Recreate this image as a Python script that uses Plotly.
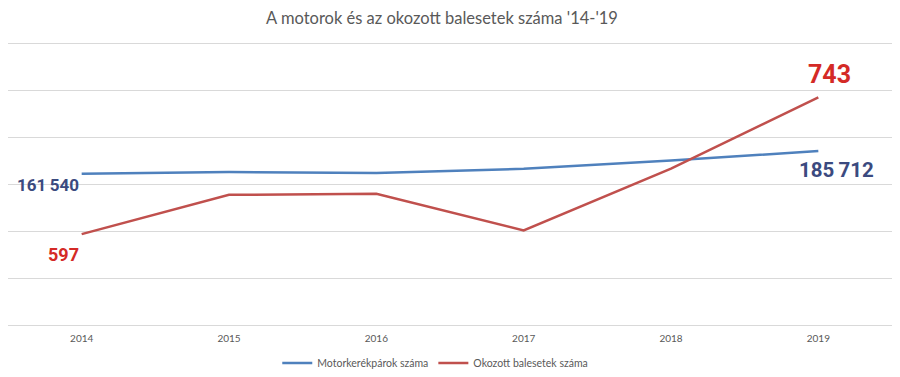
import plotly.graph_objects as go

years = ["2014", "2015", "2016", "2017", "2018", "2019"]
motorcycles = [161540, 163300, 162300, 166800, 175600, 185712]
accidents = [597, 639, 640, 601, 667, 743]

blue = "#4f81bd"
red = "#c0504d"
grid = "#d9d9d9"
label_font = "Roboto, Liberation Sans, sans-serif"
text_font = "Lato, Open Sans, sans-serif"

fig = go.Figure()
fig.add_trace(go.Scatter(x=years, y=motorcycles, mode="lines", name="Motorkerékpárok száma",
                         line=dict(color=blue, width=2.5), yaxis="y"))
fig.add_trace(go.Scatter(x=years, y=accidents, mode="lines", name="Okozott balesetek száma",
                         line=dict(color=red, width=2.5), yaxis="y2"))

def fmt(v):
    return f"{v:,}".replace(",", "\u2009")

first, last = 0, len(years) - 1
fig.add_annotation(x=first, y=motorcycles[first], xref="x", yref="y", text=f"<b>{fmt(motorcycles[first])}</b>",
                   showarrow=False, xanchor="right", yanchor="middle", xshift=-1, yshift=-11,
                   font=dict(family=label_font, size=17, color="#3b4a7f"))
fig.add_annotation(x=first, y=accidents[first], xref="x", yref="y2", text=f"<b>{accidents[first]}</b>",
                   showarrow=False, xanchor="right", yanchor="middle", xshift=-1, yshift=-20,
                   font=dict(family=label_font, size=18, color="#d42a26"))
fig.add_annotation(x=last, y=motorcycles[last], xref="x", yref="y", text=f"<b>{fmt(motorcycles[last])}</b>",
                   showarrow=False, xanchor="center", yanchor="middle", xshift=18, yshift=-19,
                   font=dict(family=label_font, size=20.5, color="#3b4a7f"))
fig.add_annotation(x=last, y=accidents[last], xref="x", yref="y2", text=f"<b>{accidents[last]}</b>",
                   showarrow=False, xanchor="center", yanchor="middle", xshift=11, yshift=23,
                   font=dict(family=label_font, size=25, color="#d42a26"))

fig.update_layout(
    width=900, height=377, autosize=False,
    paper_bgcolor="white", plot_bgcolor="white",
    margin=dict(l=0, r=16, t=36, b=60, pad=0),
    title=dict(text="A motorok és az okozott balesetek száma '14-'19", x=434 / 900, xanchor="center",
               y=1 - 10 / 377, yanchor="middle",
               font=dict(family=text_font, size=16.5, color="#595959")),
    xaxis=dict(type="category", range=[-0.5, 5.5], showgrid=False, ticks="",
               showline=True, mirror=True, linecolor=grid, linewidth=1,
               tickfont=dict(family=text_font, size=10, color="#595959"),
               ticklabelstandoff=4, zeroline=False, automargin=False),
    yaxis=dict(range=[0, 300000], dtick=50000, showgrid=True, gridcolor=grid, gridwidth=1,
               showticklabels=False, zeroline=False, showline=False, ticks="", automargin=False),
    yaxis2=dict(range=[500, 800], overlaying="y", side="right", showgrid=False,
                showticklabels=False, zeroline=False, showline=False, ticks="", automargin=False),
    legend=dict(orientation="h", x=435 / 900, xanchor="center", y=-0.135, yanchor="middle",
                font=dict(family=text_font, size=10.5, color="#595959"), itemwidth=30),
    showlegend=True,
)

fig.write_html("out.html")
